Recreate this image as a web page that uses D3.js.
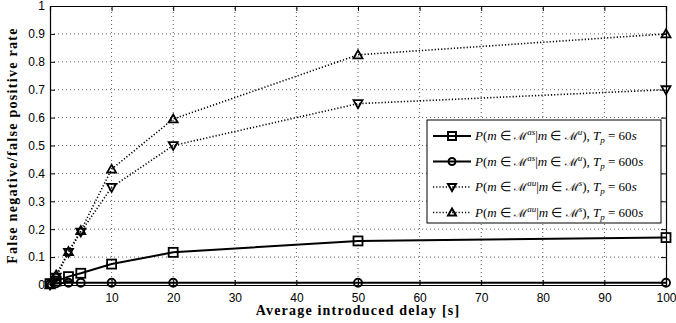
<!DOCTYPE html>
<html>
<head>
<meta charset="utf-8">
<script src="https://cdn.jsdelivr.net/npm/d3@7"></script>
<style>
  body { margin: 0; background: #fff; }
  svg { display: block; }
</style>
</head>
<body>
<div id="chart"></div>
<script>
// values
const delays = [0, 1, 3, 5, 10, 20, 50, 100];
const fnAs60 = [0.005, 0.014, 0.03, 0.042, 0.075, 0.117, 0.158, 0.17];
const fnAs600 = [0.004, 0.006, 0.008, 0.008, 0.008, 0.008, 0.008, 0.008];
const fpAu60 = [0.0, 0.028, 0.117, 0.19, 0.35, 0.5, 0.65, 0.70];
const fpAu600 = [0.0, 0.036, 0.12, 0.195, 0.415, 0.595, 0.825, 0.90];
const xTicks = [0, 10, 20, 30, 40, 50, 60, 70, 80, 90, 100];
const yTicks = [0, 0.1, 0.2, 0.3, 0.4, 0.5, 0.6, 0.7, 0.8, 0.9, 1];

const width = 676, height = 323;
const margin = { top: 6, right: 10, bottom: 38, left: 50 };

const svg = d3.select('#chart').append('svg')
  .attr('width', width)
  .attr('height', height);

const x = d3.scaleLinear().domain([0, 100]).range([margin.left, width - margin.right]);
const y = d3.scaleLinear().domain([0, 1]).range([height - margin.bottom, margin.top]);

// grid
const grid = svg.append('g').attr('stroke', '#333').attr('stroke-width', 0.8).attr('stroke-dasharray', '1,3');
grid.selectAll('.gx').data(xTicks.slice(1, -1)).join('line')
  .attr('x1', d => x(d)).attr('x2', d => x(d))
  .attr('y1', y(0)).attr('y2', y(1));
grid.selectAll('.gy').data(yTicks.slice(1, -1)).join('line')
  .attr('x1', x(0)).attr('x2', x(100))
  .attr('y1', d => y(d)).attr('y2', d => y(d));

// axes (ticks inward)
const fontTicks = 'Liberation Sans, Arial, sans-serif';
const serif = 'Liberation Serif, Times New Roman, serif';
svg.append('g')
  .attr('transform', `translate(0,${y(0)})`)
  .call(d3.axisBottom(x).tickValues(xTicks).tickSize(-5).tickPadding(8)
    .tickFormat(d => d === 0 ? '' : d));
svg.append('g')
  .attr('transform', `translate(${x(0)},0)`)
  .call(d3.axisLeft(y).tickValues(yTicks).tickSize(-5).tickPadding(5)
    .tickFormat(d => d === 0 ? '0' : (d === 1 ? '1' : d3.format('.1f')(d))));
svg.append('g').attr('transform', `translate(0,${y(1)})`)
  .call(d3.axisTop(x).tickValues(xTicks).tickSize(-5).tickFormat(''));
svg.append('g').attr('transform', `translate(${x(100)},0)`)
  .call(d3.axisRight(y).tickValues(yTicks).tickSize(-5).tickFormat(''));

svg.selectAll('.domain').attr('stroke', '#000').attr('stroke-width', 1.2);
svg.selectAll('.tick line').attr('stroke', '#000');
svg.selectAll('.tick text').attr('font-family', fontTicks).attr('font-size', 12).attr('fill', '#000');

// axis titles
svg.append('text')
  .attr('x', (x(0) + x(100)) / 2).attr('y', 315)
  .attr('text-anchor', 'middle')
  .attr('font-family', serif).attr('font-weight', 'bold').attr('font-size', 14)
  .attr('letter-spacing', 1.2)
  .text('Average introduced delay [s]');
svg.append('text')
  .attr('transform', `translate(17,${(y(0) + y(1)) / 2}) rotate(-90)`)
  .attr('text-anchor', 'middle')
  .attr('font-family', serif).attr('font-weight', 'bold').attr('font-size', 14)
  .attr('letter-spacing', 1.3)
  .text('False negative/false positive rate');

// markers
function drawMarker(g, type, cx, cy, s) {
  if (type === 'square') {
    g.append('rect').attr('x', cx - s / 2).attr('y', cy - s / 2).attr('width', s).attr('height', s);
  } else if (type === 'circle') {
    g.append('circle').attr('cx', cx).attr('cy', cy).attr('r', s / 2 - 0.5);
  } else if (type === 'down') {
    g.append('path').attr('d', `M${cx - s / 2},${cy - s / 2.6}L${cx + s / 2},${cy - s / 2.6}L${cx},${cy + s / 2}Z`);
  } else {
    g.append('path').attr('d', `M${cx - s / 2},${cy + s / 2.6}L${cx + s / 2},${cy + s / 2.6}L${cx},${cy - s / 2}Z`);
  }
}

const series = [
  { values: fnAs60, marker: 'square', dash: null, sup: 'as', cond: 'u', tp: '60' },
  { values: fnAs600, marker: 'circle', dash: null, sup: 'as', cond: 'u', tp: '600' },
  { values: fpAu60, marker: 'down', dash: '1.2,2', sup: 'au', cond: 's', tp: '60' },
  { values: fpAu600, marker: 'up', dash: '1.2,2', sup: 'au', cond: 's', tp: '600' }
];

const line = d3.line().x(d => x(d[0])).y(d => y(d[1]));

series.forEach(s => {
  const pts = delays.map((d, i) => [d, s.values[i]]);
  svg.append('path')
    .datum(pts)
    .attr('fill', 'none')
    .attr('stroke', '#000')
    .attr('stroke-width', s.dash ? 1.6 : 2)
    .attr('stroke-dasharray', s.dash)
    .attr('d', line);
  const mg = svg.append('g').attr('fill', 'none').attr('stroke', '#000').attr('stroke-width', 1.8);
  pts.forEach(p => drawMarker(mg, s.marker, x(p[0]), y(p[1]), 9));
});

// legend
const lg = svg.append('g');
lg.append('rect')
  .attr('x', 427).attr('y', 120).attr('width', 234).attr('height', 103)
  .attr('fill', '#fff').attr('stroke', '#000').attr('stroke-width', 1);

series.forEach((s, i) => {
  const ly = 136 + i * 25.5;
  lg.append('line')
    .attr('x1', 433).attr('x2', 471).attr('y1', ly).attr('y2', ly)
    .attr('stroke', '#000').attr('stroke-width', s.dash ? 1.6 : 2)
    .attr('stroke-dasharray', s.dash);
  const mg = lg.append('g').attr('fill', 'none').attr('stroke', '#000').attr('stroke-width', 2);
  drawMarker(mg, s.marker, 452, ly, 8);

  const t = lg.append('text')
    .attr('x', 475).attr('y', ly + 4)
    .attr('font-family', serif).attr('font-size', 13);
  t.append('tspan').attr('font-style', 'italic').text('P');
  t.append('tspan').text('(');
  t.append('tspan').attr('font-style', 'italic').text('m');
  t.append('tspan').text(' ∈ ');
  t.append('tspan').attr('font-family', 'DejaVu Serif, serif').attr('font-size', 11.5).text('ℳ');
  t.append('tspan').attr('font-style', 'italic').attr('font-size', 9).attr('dy', -5).text(s.sup);
  t.append('tspan').attr('dy', 5).text('|');
  t.append('tspan').attr('font-style', 'italic').text('m');
  t.append('tspan').text(' ∈ ');
  t.append('tspan').attr('font-family', 'DejaVu Serif, serif').attr('font-size', 11.5).text('ℳ');
  t.append('tspan').attr('font-style', 'italic').attr('font-size', 9).attr('dy', -5).text(s.cond);
  t.append('tspan').attr('dy', 5).text('),  ');
  t.append('tspan').attr('font-style', 'italic').text('T');
  t.append('tspan').attr('font-style', 'italic').attr('font-size', 9).attr('dy', 3).text('p');
  t.append('tspan').attr('dy', -3).text(' = ' + s.tp);
  t.append('tspan').attr('font-style', 'italic').text('s');
});
</script>
</body>
</html>
